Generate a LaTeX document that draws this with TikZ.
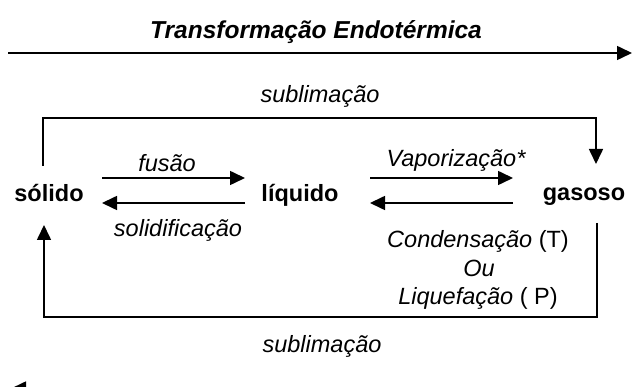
\documentclass[tikz,border=0pt]{standalone}
\usepackage{fontspec}
\setmainfont{Liberation Sans}
\usetikzlibrary{arrows.meta}
\begin{document}
\begin{tikzpicture}[x=1pt,y=-1pt,
  arr/.style={line width=1.6pt, -{Triangle[length=15pt,width=14pt]}},
  ttl/.style={font=\fontsize{24.5}{29}\selectfont\bfseries\itshape, inner sep=0pt, anchor=base},
  lbl/.style={font=\fontsize{23.5}{28}\selectfont\itshape, inner sep=0pt, anchor=base},
  lblu/.style={font=\fontsize{23.5}{28}\selectfont, inner sep=0pt, anchor=base},
  state/.style={font=\fontsize{23.5}{28}\selectfont\bfseries, inner sep=0pt, anchor=base}]
\useasboundingbox (0,0) rectangle (633,387);
% title and top arrow
\node[ttl] (title) at (316,38.5) {Transformação Endotérmica};
\coordinate (ta) at (8,53);
\coordinate (tb) at (632,53);
\draw[arr] (ta) -- (tb);
% states
\node[state] (sol) at (49,201.5) {sólido};
\node[state] (liq) at (300,201.5) {líquido};
\node[state] (gas) at (584,200.5) {gasoso};
% labels
\node[lbl] (sub1) at (320,103) {sublimação};
\node[lbl] (fus) at (167,172) {fusão};
\node[lbl] (soli) at (178,237) {solidificação};
\node[lbl] (vap) at (456,167) {Vaporização*};
\node[lblu] (cond) at (478,248) {\textit{Condensação} (T)};
\node[lbl] (ou) at (479,277) {Ou};
\node[lblu] (liqf) at (478,305) {\textit{Liquefação} ( P)};
\node[lbl] (sub2) at (322,352.5) {sublimação};
% horizontal arrows
\coordinate (f1) at (102,178); \coordinate (f2) at (245,178);
\coordinate (s1) at (245,203); \coordinate (s2) at (102,203);
\coordinate (v1) at (370,178); \coordinate (v2) at (513,178);
\coordinate (c1) at (513,203); \coordinate (c2) at (370,203);
\draw[arr] (f1) -- (f2);
\draw[arr] (s1) -- (s2);
\draw[arr] (v1) -- (v2);
\draw[arr] (c1) -- (c2);
% sublimation loops
\coordinate (solTop) at (43,166);
\coordinate (gasTop) at (596,164);
\draw[arr] (solTop) -- (43,118) -| (gasTop);
\coordinate (gasBot) at (597,223);
\coordinate (solBot) at (44,225);
\draw[arr] (gasBot) -- (597,317) -| (solBot);
% bottom arrow (mostly outside the frame)
\begin{scope}
\clip (0,0) rectangle (633,387);
\coordinate (ba) at (622,388.5);
\coordinate (bb) at (11,388.5);
\draw[arr] (ba) -- (bb);
\end{scope}
\end{tikzpicture}
\end{document}
